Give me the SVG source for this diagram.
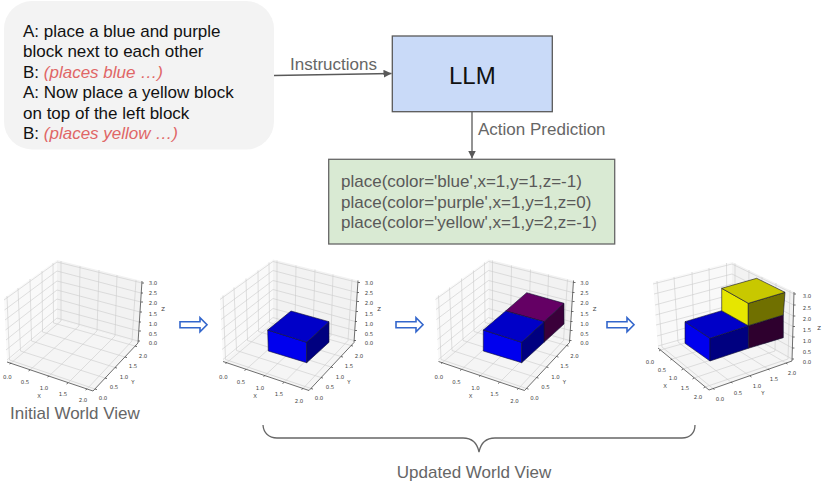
<svg xmlns="http://www.w3.org/2000/svg" width="830" height="485" viewBox="0 0 830 485">
<style>
text{font-family:"Liberation Sans",Arial,sans-serif}
.t{font-size:17px;fill:#111}
.r{font-style:italic;fill:#e06666}
.g{font-size:17px;fill:#666}
.c{font-size:17px;fill:#595959}
.m{font-family:"DejaVu Sans",sans-serif;font-size:5.4px;fill:#444;text-anchor:middle}
.conn{fill:none;stroke:#595959;stroke-width:1.3}
.grid{fill:none;stroke:#cbcbcb;stroke-width:.6}
.axis{fill:none;stroke:#4a4a4a;stroke-width:.8}
.hollow{fill:#fff;stroke:#3366cc;stroke-width:1.6}
.e{stroke:#101030;stroke-width:.6;stroke-linejoin:round}
</style>
<defs>
<marker id="ah" markerUnits="userSpaceOnUse" markerWidth="9" markerHeight="8" refX="8" refY="4" orient="auto"><path d="M0 0L8 4L0 8z" fill="#595959"/></marker>
<path id="arrowShape" d="M0 -3V3H20V7L27 0L20 -7V-3z"/>
<g id="axesA">
<path d="M4 298L57 260V320L7 362z" fill="#f9f9f9"/>
<path d="M57 260L142 281L138 343L57 320z" fill="#f2f2f2"/>
<path d="M7 362L57 320L138 343L93 391z" fill="#f5f5f5"/>
<path class="grid" d="M61 261V321L11 363M80 266L79 326L30 370M99 270L97 331L49 376M117 275L115 336L68 383M136 280L132 341L87 389"/>
<path class="grid" d="M7 296L9.500 360L95 389M18 288L20.500 351L105 378M30 279L31.500 341L115 367.500M42 271L42.500 332L125 357M53 263L53.500 323L135 346"/>
<path class="grid" d="M7 360L57 318L138 341M6 350L57 309L139 331M6 340L57 299L139 322M5.500 330L57 290L140 312M5 320L57 281L141 302M4.500 310L57 271L141 293M4 300L57 262L142 283"/>
<path class="axis" d="M7 362L93 391L138 343L142 281"/>
<path class="axis" d="M11 363l-1.500 1M30 370l-1.500 1M49 376l-1.500 1M68 383l-1.500 1M87 389l-1.500 1M95 389l2 .6M105 378l2 .6M115 367.500l2 .6M125 357l2 .6M135 346l2 .6M138 341h2M139 331h2M139 322h2M140 312h2M141 302h2M141 293h2M142 283h2"/>
</g>
</defs>

<g id="connectors">
<path class="conn" d="M274 75.500L391.500 73.500" marker-end="url(#ah)"/>
<path class="conn" d="M472 112V158.500" marker-end="url(#ah)"/>
</g>

<g id="dialogue">
<rect x="4" y="1" width="270" height="148.500" rx="28" fill="#f3f3f3"/>
<text class="t" x="23" y="36.500">A: place a blue and purple</text>
<text class="t" x="23" y="57">block next to each other</text>
<text class="t" x="23" y="77.500">B: <tspan class="r">(places blue …)</tspan></text>
<text class="t" x="23" y="98">A: Now place a yellow block</text>
<text class="t" x="23" y="118.500">on top of the left block</text>
<text class="t" x="23" y="139">B: <tspan class="r">(places yellow …)</tspan></text>
</g>
<g id="llm">
<rect x="392.300" y="36" width="160" height="75.700" fill="#c9daf8" stroke="#595959" stroke-width="1.300"/>
<text x="472.300" y="83.500" font-size="24" fill="#111" text-anchor="middle">LLM</text>
</g>
<g id="actions">
<rect x="328.700" y="159.300" width="286" height="84.700" fill="#d9ead3" stroke="#666" stroke-width="1.300"/>
<text class="c" x="341" y="187">place(color='blue',x=1,y=1,z=-1)</text>
<text class="c" x="341" y="207.500">place(color='purple',x=1,y=1,z=0)</text>
<text class="c" x="341" y="228">place(color='yellow',x=1,y=2,z=-1)</text>
</g>
<g id="label-instructions"><text class="g" x="290" y="69.500">Instructions</text></g>
<g id="label-action"><text class="g" x="478" y="135">Action Prediction</text></g>

<g id="plot-initial">
<use href="#axesA"/>
<text class="m" x="7.300" y="379">0.0</text><text class="m" x="25" y="384">0.5</text><text class="m" x="44" y="390">1.0</text><text class="m" x="63" y="396">1.5</text><text class="m" x="83" y="401.500">2.0</text><text class="m" x="39" y="398">X</text>
<text class="m" x="103" y="400">0.0</text><text class="m" x="114" y="389">0.5</text><text class="m" x="124" y="379">1.0</text><text class="m" x="133" y="368">1.5</text><text class="m" x="143" y="358">2.0</text><text class="m" x="133" y="384">Y</text>
<text class="m" x="153" y="285">3.0</text><text class="m" x="153" y="295">2.5</text><text class="m" x="153" y="305">2.0</text><text class="m" x="153" y="316">1.5</text><text class="m" x="153" y="326">1.0</text><text class="m" x="153" y="336">0.5</text><text class="m" x="153" y="345">0.0</text><text class="m" x="163" y="311">Z</text>
</g>
<g id="label-initial"><text class="g" x="10" y="418.500">Initial World View</text></g>

<g id="plot-blue" transform="translate(216 -.5)">
<use href="#axesA"/>
<text class="m" x="7.300" y="379">0.0</text><text class="m" x="25" y="384">0.5</text><text class="m" x="44" y="390">1.0</text><text class="m" x="63" y="396">1.5</text><text class="m" x="83" y="403">2.0</text><text class="m" x="39" y="398">X</text>
<text class="m" x="103" y="400">0.0</text><text class="m" x="114" y="389">0.5</text><text class="m" x="124" y="379">1.0</text><text class="m" x="133" y="368">1.5</text><text class="m" x="143" y="358">2.0</text><text class="m" x="133" y="384">Y</text>
<text class="m" x="153" y="285">3.0</text><text class="m" x="153" y="295">2.5</text><text class="m" x="153" y="305">2.0</text><text class="m" x="153" y="316">1.5</text><text class="m" x="153" y="326">1.0</text><text class="m" x="153" y="336">0.5</text><text class="m" x="153" y="345">0.0</text><text class="m" x="163" y="311">Z</text>
</g>
<g id="block-blue-1">
<path class="e" fill="#0000ee" d="M267.700 330L306.700 342.300V362.700L268.300 351z"/>
<path class="e" fill="#000080" d="M306.700 342.300L329 321.700V342.300L306.700 362.700z"/>
<path class="e" fill="#0000c8" d="M267.700 330L291 311L329 321.700L306.700 342.300z"/>
</g>

<g id="plot-blue-purple" transform="translate(431.500 -.5)">
<use href="#axesA"/>
<text class="m" x="7.300" y="379">0.0</text><text class="m" x="25" y="384">0.5</text><text class="m" x="44" y="390">1.0</text><text class="m" x="63" y="396">1.5</text><text class="m" x="83" y="403">2.0</text><text class="m" x="39" y="398">X</text>
<text class="m" x="103" y="400">0.0</text><text class="m" x="114" y="389">0.5</text><text class="m" x="124" y="379">1.0</text><text class="m" x="133" y="368">1.5</text><text class="m" x="143" y="358">2.0</text><text class="m" x="133" y="384">Y</text>
<text class="m" x="153" y="285">3.0</text><text class="m" x="153" y="295">2.5</text><text class="m" x="153" y="305">2.0</text><text class="m" x="153" y="316">1.5</text><text class="m" x="153" y="326">1.0</text><text class="m" x="153" y="336">0.5</text><text class="m" x="153" y="345">0.0</text><text class="m" x="163" y="311">Z</text>
</g>
<g id="block-purple-2">
<path class="e" fill="#3a003a" d="M564 303.300V324L544 342.300V321.700z"/>
<path class="e" fill="#640064" d="M505.700 311L526.700 292.700L564 303.300L544 321.700z"/>
</g>
<g id="block-blue-2">
<path class="e" fill="#0000ee" d="M483.300 330L521.700 342.300V362.700L483.300 351z"/>
<path class="e" fill="#000080" d="M521.700 342.300L544 321.700V342.300L521.700 362.700z"/>
<path class="e" fill="#0000c8" d="M483.300 330L505.700 311L544 321.700L521.700 342.300z"/>
</g>

<g id="plot-final">
<path d="M653 282L732 262V327L658 348z" fill="#f9f9f9"/>
<path d="M732 262L794 292L792 361L732 327z" fill="#f2f2f2"/>
<path d="M658 348L732 327L792 361L709 390z" fill="#f5f5f5"/>
<path class="grid" d="M735 263.500V329L660.500 350M749 270L748 336L672 359M762 277L761 344L683 369M776 283L775 351L694 378M790 290L788 359L705 387"/>
<path class="grid" d="M657 281L662 347L713 388.500M674 277L678 342L731 382M692 272L694 338L750 376M709 268L710.500 333L768 369M726.500 263L727 328.500L786 363"/>
<path class="grid" d="M658 346L732 325L792 359M657 336L732 315L792.400 348M656 325L732 305L792.700 337M655.500 315L732 294.500L793 326.500M655 305L732 284L793.300 316M654 294L732 274L793.600 305M653 284L732 264L794 294"/>
<path class="axis" d="M658 348L709 390L792 361L794 292"/>
<path class="axis" d="M660.500 350l-1.500 1M672 359l-1.500 1M683 369l-1.500 1M694 378l-1.500 1M705 387l-1.500 1M713 388.500l1.500 1M731 382l1.500 1M750 376l1.500 1M768 369l1.500 1M786 363l1.500 1M792 359h2M792.400 348h2M792.700 337h2M793 326.500h2M793.300 316h2M793.600 305h2M794 294h2"/>
<text class="m" x="650" y="364">0.0</text><text class="m" x="662" y="372">0.5</text><text class="m" x="673" y="380">1.0</text><text class="m" x="685" y="390">1.5</text><text class="m" x="698" y="399">2.0</text><text class="m" x="665" y="388">X</text>
<text class="m" x="720" y="401">0.0</text><text class="m" x="738" y="395">0.5</text><text class="m" x="757" y="388">1.0</text><text class="m" x="774" y="381">1.5</text><text class="m" x="792" y="375">2.0</text><text class="m" x="763" y="395">Y</text>
<text class="m" x="807" y="298">3.0</text><text class="m" x="807" y="310">2.5</text><text class="m" x="807" y="321">2.0</text><text class="m" x="807" y="332">1.5</text><text class="m" x="807" y="343">1.0</text><text class="m" x="807" y="354">0.5</text><text class="m" x="807" y="364">0.0</text><text class="m" x="819" y="330">Z</text>
</g>
<g id="block-purple-3">
<path class="e" fill="#2e002e" d="M748.300 325.700L783.300 315V337.700L748.300 348.300z"/>
</g>
<g id="block-blue-3">
<path class="e" fill="#0000ee" d="M685 321.700L710 338.300V361L685 343.300z"/>
<path class="e" fill="#000080" d="M710 338.300L748.300 325.700V348.300L710 361z"/>
<path class="e" fill="#0000c8" d="M685 321.700L721.700 310.700L748.300 325.700L710 338.300z"/>
</g>
<g id="block-yellow-3">
<path class="e" fill="#e6e600" d="M721.700 288.300L748.300 303.300V325.700L721.700 310.700z"/>
<path class="e" fill="#707000" d="M748.300 303.300L785 292.300L783.300 315L748.300 325.700z"/>
<path class="e" fill="#c8c800" d="M721.700 288.300L756.700 278.300L785 292.300L748.300 303.300z"/>
</g>

<g id="arrow-1"><use href="#arrowShape" class="hollow" transform="translate(180 324.700)"/></g>
<g id="arrow-2"><use href="#arrowShape" class="hollow" transform="translate(396 324.700)"/></g>
<g id="arrow-3"><use href="#arrowShape" class="hollow" transform="translate(607 324.700)"/></g>

<g id="brace"><path fill="none" stroke="#666" stroke-width="1.300" d="M263 425C263.500 433 269 438 277 438H463C471 438 477 442 479 452C481 442 487 438 495 438H682C690 438 695 433 695 425"/></g>
<g id="label-updated"><text class="g" x="474" y="478" text-anchor="middle">Updated World View</text></g>
</svg>
